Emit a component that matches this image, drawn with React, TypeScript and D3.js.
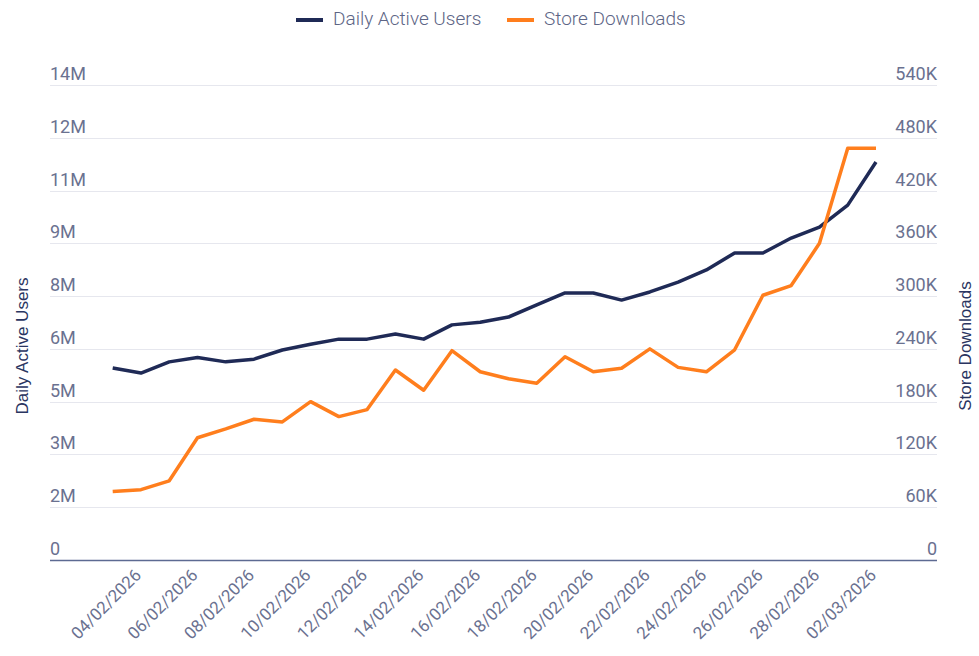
import { useEffect, useRef } from 'react';
import * as d3 from 'd3';

// Dates 03/02/2026 .. 02/03/2026, one point per day
const dates = [
  '03/02/2026', '04/02/2026', '05/02/2026', '06/02/2026', '07/02/2026', '08/02/2026', '09/02/2026',
  '10/02/2026', '11/02/2026', '12/02/2026', '13/02/2026', '14/02/2026', '15/02/2026', '16/02/2026',
  '17/02/2026', '18/02/2026', '19/02/2026', '20/02/2026', '21/02/2026', '22/02/2026', '23/02/2026',
  '24/02/2026', '25/02/2026', '26/02/2026', '27/02/2026', '28/02/2026', '01/03/2026', '02/03/2026',
];

// Daily active users (millions)
const dailyActiveUsers = [
  5.66, 5.51, 5.84, 5.97, 5.84, 5.92, 6.19, 6.36, 6.51, 6.51, 6.66, 6.51, 6.93, 7.01,
  7.16, 7.52, 7.87, 7.87, 7.66, 7.9, 8.19, 8.55, 9.05, 9.05, 9.49, 9.81, 10.46, 11.73,
];

// Store downloads (thousands)
const storeDownloads = [
  78, 80, 90, 139, 149, 160, 157, 180, 163, 171, 216, 193, 238, 214,
  206, 201, 231, 214, 218, 240, 219, 214, 239, 301, 312, 360, 468, 468,
];

const leftTicks = [0, 2, 3, 5, 6, 8, 9, 11, 12, 14];
const rightTicks = [0, 60, 120, 180, 240, 300, 360, 420, 480, 540];

const W = 979;
const H = 656;

export default function App() {
  const svgRef = useRef<SVGSVGElement>(null);

  useEffect(() => {
    if (!svgRef.current) return;
    const svg = d3.select(svgRef.current);
    svg.selectAll('*').remove();

    const gridLeft = 50;
    const gridRight = 937;
    const top = 85;
    const bottom = 560;

    const x = d3.scalePoint<string>().domain(dates).range([112.7, 876]);
    const yL = d3.scaleLinear().domain([0, 14]).range([bottom, top]);
    const yR = d3.scaleLinear().domain([0, 540]).range([bottom, top]);

    const tickColor = '#6a7190';
    const titleColor = '#2a3561';
    const navy = '#1f2a56';
    const orange = '#ff7e1d';

    // Grid lines, evenly split in 9 steps
    const steps = d3.range(leftTicks.length);
    steps.forEach((i) => {
      const yy = Math.round(yR(rightTicks[i])) + 0.5;
      svg.append('line')
        .attr('x1', gridLeft).attr('x2', gridRight)
        .attr('y1', yy).attr('y2', yy)
        .attr('stroke', i === 0 ? '#5d6a92' : '#e6e7ee')
        .attr('stroke-width', i === 0 ? 1.5 : 1.2);

      svg.append('text')
        .attr('x', gridLeft)
        .attr('y', yy - 6)
        .attr('fill', tickColor)
        .attr('font-size', '18px')
        .attr('font-family', 'Roboto, sans-serif')
        .text(leftTicks[i] === 0 ? '0' : `${leftTicks[i]}M`);

      svg.append('text')
        .attr('x', gridRight)
        .attr('y', yy - 6)
        .attr('text-anchor', 'end')
        .attr('fill', tickColor)
        .attr('font-size', '18px')
        .attr('font-family', 'Roboto, sans-serif')
        .text(rightTicks[i] === 0 ? '0' : `${rightTicks[i]}K`);
    });

    // X labels every 2 days, rotated
    dates.forEach((d, i) => {
      if (i % 2 === 0) return;
      const px = x(d)!;
      svg.append('text')
        .attr('transform', `translate(${px - 2},${bottom + 13}) rotate(-45)`)
        .attr('text-anchor', 'end')
        .attr('dominant-baseline', 'middle')
        .attr('fill', tickColor)
        .attr('font-size', '17px')
        .attr('font-family', 'Roboto, sans-serif')
        .text(d);
    });

    // Axis titles
    svg.append('text')
      .attr('transform', `translate(28,346) rotate(-90)`)
      .attr('text-anchor', 'middle')
      .attr('fill', titleColor)
      .attr('font-size', '17px')
      .attr('font-family', 'Liberation Sans, Arial, sans-serif')
      .text('Daily Active Users');

    svg.append('text')
      .attr('transform', `translate(971,346) rotate(-90)`)
      .attr('text-anchor', 'middle')
      .attr('fill', titleColor)
      .attr('font-size', '17px')
      .attr('font-family', 'Liberation Sans, Arial, sans-serif')
      .text('Store Downloads');

    // Lines
    const lineL = d3.line<number>().x((_, i) => x(dates[i])!).y((v) => yL(v));
    const lineR = d3.line<number>().x((_, i) => x(dates[i])!).y((v) => yR(v));

    svg.append('path')
      .datum(dailyActiveUsers)
      .attr('d', lineL)
      .attr('fill', 'none')
      .attr('stroke', navy)
      .attr('stroke-width', 3.5)
      .attr('stroke-linejoin', 'round');

    svg.append('path')
      .datum(storeDownloads)
      .attr('d', lineR)
      .attr('fill', 'none')
      .attr('stroke', orange)
      .attr('stroke-width', 3.5)
      .attr('stroke-linejoin', 'round');

    // Legend
    const legend = [
      { name: 'Daily Active Users', color: navy, x: 296 },
      { name: 'Store Downloads', color: orange, x: 507 },
    ];
    legend.forEach((l) => {
      svg.append('rect')
        .attr('x', l.x).attr('y', 18)
        .attr('width', 27).attr('height', 4)
        .attr('fill', l.color);
      svg.append('text')
        .attr('x', l.x + 37)
        .attr('y', 20)
        .attr('dominant-baseline', 'middle')
        .attr('fill', '#5d6585')
        .attr('font-size', '19px')
        .attr('font-family', 'Roboto, sans-serif')
        .attr('font-weight', 300)
        .text(l.name);
    });
  }, []);

  return (
    <svg
      ref={svgRef}
      width={W}
      height={H}
      style={{ position: 'absolute', left: 0, top: 0, background: '#fff', display: 'block' }}
    />
  );
}
